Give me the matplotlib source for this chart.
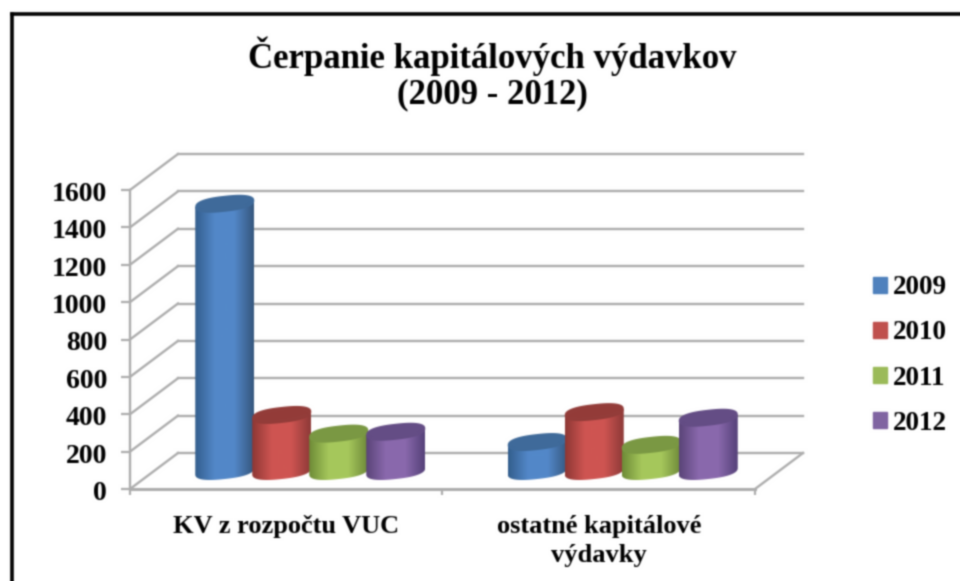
import numpy as np
import matplotlib
matplotlib.use("Agg")
import matplotlib.pyplot as plt
from matplotlib.patches import Patch, PathPatch
from matplotlib.lines import Line2D
from matplotlib.path import Path
from matplotlib.transforms import Affine2D
from matplotlib.colors import LinearSegmentedColormap

# ---- data -------------------------------------------------------------
categories = ["KV z rozpočtu VUC", "ostatné kapitálové\nvýdavky"]
years = ["2009", "2010", "2011", "2012"]
values_2009 = [1430, 155]
values_2010 = [300, 315]
values_2011 = [200, 140]
values_2012 = [210, 285]
y_ticks = [0, 200, 400, 600, 800, 1000, 1200, 1400, 1600]
title_lines = ["Čerpanie kapitálových výdavkov", "(2009 - 2012)"]

series = [values_2009, values_2010, values_2011, values_2012]
# edge-left, centre, edge-right, cap
palette = [("#345f8e", "#5388c9", "#36587f", "#3f6a9a"),
           ("#8f3835", "#cf5552", "#8e3a38", "#933c39"),
           ("#6f8c38", "#a6c85c", "#6f8a3a", "#7a9843"),
           ("#5b4579", "#8a69ad", "#56427a", "#644d85")]
legend_colors = ["#4f81bd", "#c0504d", "#9bbb59", "#8064a2"]

# ---- layout -----------------------------------------------------------
W, H = 960, 581
plt.rcParams["font.family"] = ["Liberation Serif", "DejaVu Serif"]
plt.rcParams["font.weight"] = "bold"
fig = plt.figure(figsize=(W / 100, H / 100), dpi=100, facecolor="white")

L, R, B, T = 130, 755, 489, 190          # front plane, pixels from top-left
ax = fig.add_axes([L / W, 1 - B / H, (R - L) / W, (B - T) / H])
ax.set_xlim(0, 2)
ax.set_ylim(0, 1600)
ax.patch.set_visible(False)
for side in ("top", "right", "bottom"):
    ax.spines[side].set_visible(False)
GRID = "#adadad"
ax.spines["left"].set_color(GRID)
ax.spines["left"].set_linewidth(1.7)

DX, DY = 48, 36
def shifted(f):
    return Affine2D().translate(DX * f, DY * f)
back = ax.transData + shifted(1)
mid = ax.transData + shifted(0.5)

# walls and floor
for v in y_ticks:
    ax.plot([0, 2], [v, v], color=GRID, lw=1.7, transform=back, clip_on=False, zorder=1)
    x0, y0 = ax.transData.transform((0, v))
    ax.plot([x0, x0 + DX], [y0, y0 + DY], color=GRID, lw=1.7,
            transform=None, clip_on=False, zorder=1)
x0, y0 = ax.transData.transform((2, 0))
ax.plot([x0, x0 + DX], [y0, y0 + DY], color=GRID, lw=1.7, transform=None, clip_on=False, zorder=1)
ax.plot([0, 2], [0, 0], color=GRID, lw=2.2, clip_on=False, zorder=1)

# cylinders
RX = 29.5 / ((R - L) / 2)                # radius along x, in category units
RY = 8.0 / ((B - T) / 1600)              # half height of the cap, in value units
TILT = 3.2 / ((B - T) / 1600)            # rise of the right end of the cap
STEP = 57.0 / ((R - L) / 2)
t = np.linspace(0, 2 * np.pi, 120)
EXP = 0.8                                # slightly squarer than an ellipse
ELLX = np.sign(np.cos(t)) * np.abs(np.cos(t)) ** EXP
ELLY = np.sign(np.sin(t)) * np.abs(np.sin(t)) ** EXP

def ellipse(xc, yc):
    return np.column_stack([xc + RX * ELLX, yc + RY * ELLY + TILT * ELLX])

def cylinder(xc, h, colors, z):
    cmap = LinearSegmentedColormap.from_list("c", [colors[0], colors[1], colors[1], colors[2]])
    bottom = ellipse(xc, 0)
    lower = bottom[60:120]
    outline = np.vstack([lower, [xc + RX, h + TILT], [xc - RX, h - TILT]])
    body = Path(np.vstack([outline, outline[0]]), closed=True)
    patch = PathPatch(body, fc="none", ec="none", transform=mid, zorder=z)
    ax.add_patch(patch)
    grad = np.linspace(0, 1, 80)[None, :]
    im = ax.imshow(grad, cmap=cmap, aspect="auto", interpolation="bilinear",
                   extent=(xc - RX, xc + RX, -2 * RY, h + 2 * RY),
                   transform=mid, zorder=z, clip_on=True)
    im.set_clip_path(patch)
    cap = ellipse(xc, h)
    ax.fill(cap[:, 0], cap[:, 1], color=colors[3], ec="none", transform=mid,
            zorder=z + 0.1, clip_on=False)

centers = [0.5, 1.5]
for c, xc in enumerate(centers):
    for s, vals in enumerate(series):
        cylinder(xc + (s - 1.5) * STEP, vals[c], palette[s], 3 + s)
ax.set_xlim(0, 2)
ax.set_ylim(0, 1600)

# axes text
ax.set_yticks(y_ticks)
ax.set_yticklabels([str(v) for v in y_ticks], fontsize=20, fontweight="bold")
ax.set_xticks([0, 1, 2])
ax.set_xticklabels([])
ax.tick_params(axis="y", length=6.5, width=1.6, color=GRID, pad=10)
ax.tick_params(axis="x", length=4.5, width=1.6, color=GRID)
for label in ax.get_yticklabels():
    label.set_transform(label.get_transform() + Affine2D().translate(0, -1.5))
for xc, name in zip(centers, categories):
    ax.annotate(name, (xc, 0), xytext=(0, -26), textcoords="offset pixels", ha="center",
                va="top", fontsize=19, fontweight="bold", linespacing=1.36, annotation_clip=False)

fig.text(492 / W, 1 - 56 / H, title_lines[0], ha="center", va="center", fontsize=25, fontweight="bold")
fig.text(492 / W, 1 - 95 / H, title_lines[1], ha="center", va="center", fontsize=25, fontweight="bold")

handles = [Patch(color=c, label=y) for c, y in zip(legend_colors, years)]
fig.legend(handles=handles, loc="center left", bbox_to_anchor=(873 / W, 1 - 355.5 / H),
           frameon=False, fontsize=19.5, handlelength=0.52, handleheight=0.52,
           handletextpad=0.22, labelspacing=0.74, borderpad=0, borderaxespad=0)

# frame: only the left and top edges show in the crop
frame_x = 11.5 / W
frame_y = 1 - 13.5 / H
fig.add_artist(Line2D([frame_x, frame_x], [0, frame_y], transform=fig.transFigure, color="black", lw=2.6))
fig.add_artist(Line2D([frame_x, 1], [frame_y, frame_y], transform=fig.transFigure, color="black", lw=2.6))

# the reference is a soft, enlarged screenshot
def soften(img, dpi, sigma=0.75):
    r = 3
    k = np.exp(-0.5 * (np.arange(-r, r + 1) / sigma) ** 2)
    k /= k.sum()
    out = np.pad(img, ((r, r), (r, r), (0, 0)), mode="edge")
    out = np.apply_along_axis(lambda m: np.convolve(m, k, mode="same"), 0, out)
    out = np.apply_along_axis(lambda m: np.convolve(m, k, mode="same"), 1, out)
    return out[r:-r, r:-r], 0, 0

fig.set_agg_filter(soften)
fig.savefig("out.png", dpi=100)
